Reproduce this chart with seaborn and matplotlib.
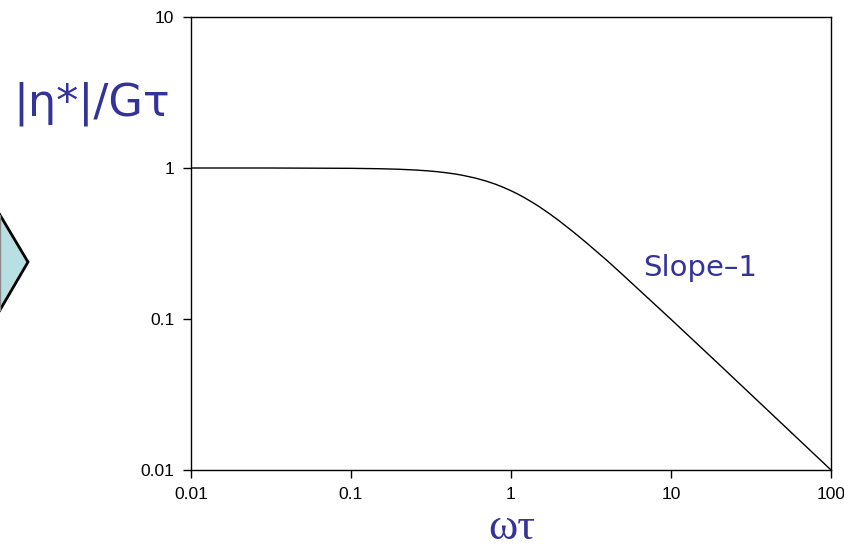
import numpy as np
import pandas as pd
import matplotlib
matplotlib.use("Agg")
import matplotlib.pyplot as plt
from matplotlib.patches import Polygon
import seaborn as sns

# values
omega_tau = [0.01, 0.03, 0.1, 0.15, 0.2, 0.25, 0.3, 0.35, 0.4, 0.45, 0.5, 0.6, 0.7,
             0.8, 0.9, 1.0, 1.1, 1.2, 1.35, 1.5, 1.75, 2.0, 2.5, 3.0, 4.0, 5.0,
             7.0, 10, 20, 50, 100]
eta_norm = [1.0, 1.0, 0.995, 0.989, 0.981, 0.970, 0.958, 0.944, 0.928, 0.912, 0.894,
            0.857, 0.819, 0.781, 0.743, 0.707, 0.673, 0.640, 0.595, 0.555, 0.496,
            0.447, 0.371, 0.316, 0.243, 0.196, 0.141, 0.0995, 0.050, 0.020, 0.010]
tick_vals = [0.01, 0.1, 1, 10, 100]
ytick_vals = [0.01, 0.1, 1, 10]

df = pd.DataFrame({"wt": omega_tau, "eta": eta_norm})

sns.set_style("white")
plt.rcParams["font.family"] = "sans-serif"
plt.rcParams["font.sans-serif"] = ["Liberation Sans"]

W, H = 845, 549
fig = plt.figure(figsize=(W / 100, H / 100), dpi=100)
ax = fig.add_axes([191 / W, 1 - 470 / H, 640 / W, 453 / H])

sns.lineplot(data=df, x="wt", y="eta", color="black", lw=1.0, ax=ax)
ax.set_xscale("log")
ax.set_yscale("log")
ax.set_xlim(0.01, 100)
ax.set_ylim(0.01, 10)
ax.set_xticks(tick_vals)
ax.set_xticklabels([f"{v:g}" for v in tick_vals])
ax.set_yticks(ytick_vals)
ax.set_yticklabels([f"{v:g}" for v in ytick_vals])
ax.minorticks_off()
ax.tick_params(direction="out", length=6, width=1, labelsize=12.5, color="black",
               labelcolor="black", bottom=True, left=True, pad=6)
ax.set_xlabel("")
ax.set_ylabel("")
for s in ax.spines.values():
    s.set_color("black")
    s.set_linewidth(1)

blue = "#333399"
fig.text(92 / W, 1 - 104 / H, "|η*|/Gτ", color=blue, fontsize=32,
         family="DejaVu Sans", ha="center", va="center")
fig.text(512 / W, 1 - 528 / H, "ωτ", color=blue, fontsize=32,
         family="Liberation Serif", ha="center", va="center")
fig.text(700 / W, 1 - 268 / H, "Slope–1", color=blue, fontsize=21,
         family="DejaVu Sans", ha="center", va="center")

# clipped diamond arrow on the left edge
diamond = Polygon([(28, 262), (0, 215), (-10, 198), (-10, 326), (0, 310)],
                  closed=True, facecolor="#b8dfe1", edgecolor="black", lw=2)
diamond.set_transform(matplotlib.transforms.Affine2D().scale(1, -1).translate(0, H))
fig.patches.append(diamond)
fig.add_artist(plt.Line2D([0, 0], [1 - 215 / H, 1 - 310 / H], color="#888888", lw=1,
                          transform=fig.transFigure))

fig.savefig("out.png", dpi=100)
